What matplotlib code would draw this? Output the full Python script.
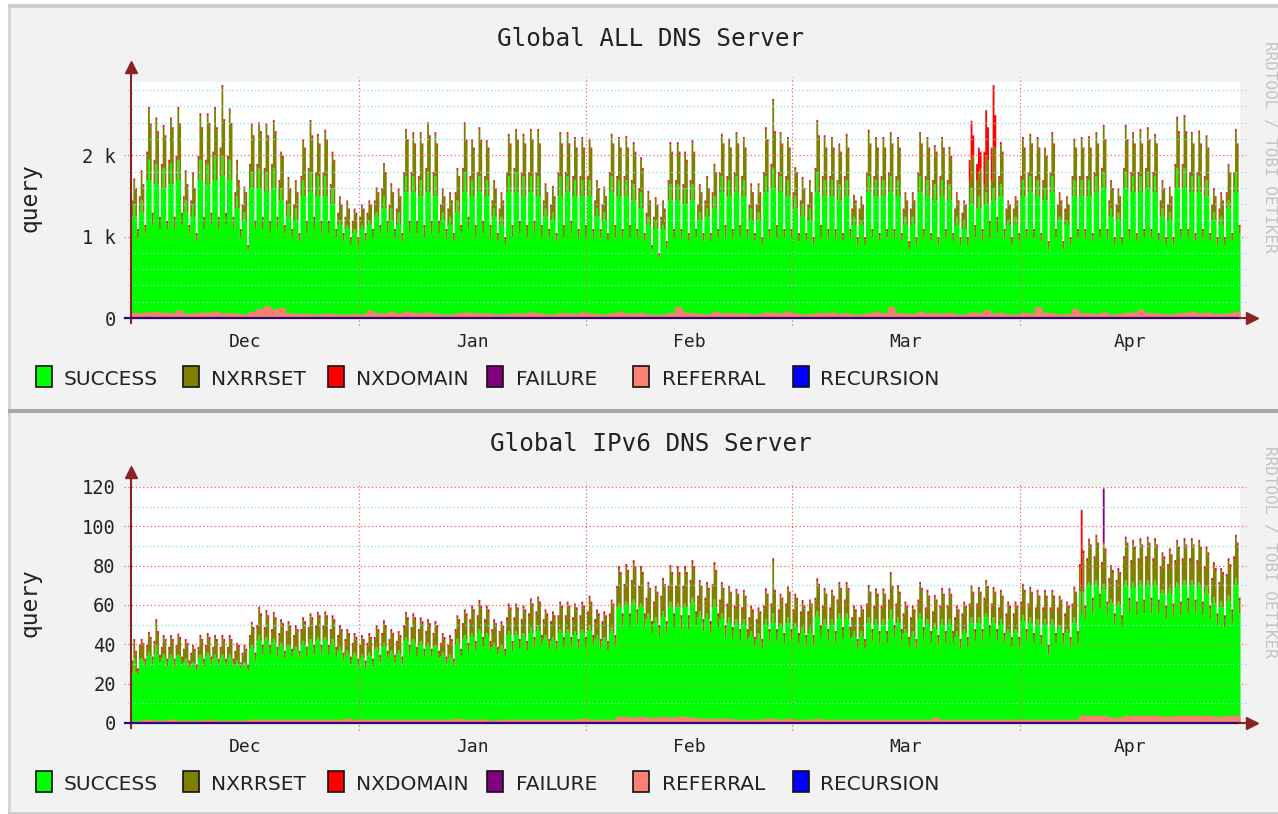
import numpy as np
import matplotlib
matplotlib.use('Agg')
import matplotlib.pyplot as plt
from matplotlib import font_manager
from matplotlib.patches import Rectangle

# ---------------------------------------------------------------
# data, one value per day from Dec 1 to Apr 30 (151 days)
# each day is drawn as 4 samples: body, peak, peak2, low
# ---------------------------------------------------------------
month_names = ['Dec', 'Jan', 'Feb', 'Mar', 'Apr']
month_starts = [0, 31, 62, 90, 121]
month_centers = [15.5, 46.5, 76.0, 105.5, 136.0]
legend_names = ['SUCCESS', 'NXRRSET', 'NXDOMAIN', 'FAILURE', 'REFERRAL', 'RECURSION']

# --- Global ALL DNS Server (queries) ---
all_peak = [
    1720, 1820,
    2600, 2470, 2380, 2470, 2600, 1820, 1800,
    2520, 2520, 2600, 2870, 2580, 1950, 1620,
    2400, 2410, 2400, 2440, 2050, 1740, 1700,
    2200, 2440, 2270, 2320, 2050, 1500, 1450,
    1350, 1400, 1450, 1610, 1910, 1660, 1600,
    2330, 2290, 2290, 2410, 2290, 1600, 1550,
    1850, 2410, 2200, 2350, 2190, 1700, 1550,
    2270, 2330, 2270, 2330, 2330, 1660, 1630,
    2290, 2290, 2230, 2230, 2210, 1700, 1620,
    2270, 2230, 2240, 2170, 1980, 1570, 1490,
    1450, 2170, 2170, 2050, 2190, 1650, 1750,
    1900, 2270, 2210, 2290, 2230, 1660, 1660,
    2350, 2700, 2290, 2230, 1860, 1740, 1700,
    2440, 2250, 2230, 2150, 2270, 1520, 1500,
    2320, 2230, 2230, 2290, 2230, 1550, 1550,
    2290, 2230, 2130, 2230, 2110, 1550, 1450,
    2430, 2100, 2560, 2870, 2170, 1450, 1500,
    2230, 2270, 2230, 2100, 2290, 1550, 1500,
    2210, 2230, 2240, 2290, 2380, 1700, 1600,
    2380, 2290, 2330, 2350, 2270, 1700, 1620,
    2480, 2500, 2290, 2310, 2250, 1600, 1550,
    1900, 2330,
]
all_peak2 = [
    1600, 1650,
    2400, 2300, 2250, 2350, 2400, 1650, 1600,
    2350, 2400, 2350, 2450, 2400, 1700, 1550,
    2250, 2300, 2250, 2300, 2000, 1600, 1550,
    2100, 2250, 2150, 2200, 1950, 1400, 1350,
    1300, 1350, 1400, 1550, 1800, 1550, 1500,
    2200, 2150, 2150, 2250, 2150, 1500, 1450,
    1750, 2200, 2100, 2200, 2100, 1600, 1450,
    2150, 2200, 2150, 2200, 2150, 1550, 1500,
    2150, 2150, 2100, 2100, 2100, 1600, 1500,
    2150, 2100, 2100, 2050, 1850, 1450, 1400,
    1350, 2050, 2050, 1950, 2050, 1550, 1600,
    1800, 2150, 2100, 2150, 2100, 1550, 1550,
    2200, 2300, 2150, 2100, 1800, 1600, 1550,
    2250, 2100, 2100, 2050, 2100, 1450, 1400,
    2150, 2100, 2100, 2150, 2100, 1450, 1450,
    2150, 2100, 2050, 2100, 2000, 1450, 1400,
    2250, 2050, 2350, 2500, 2050, 1400, 1450,
    2100, 2150, 2100, 2000, 2150, 1450, 1400,
    2100, 2100, 2100, 2150, 2200, 1600, 1500,
    2200, 2150, 2150, 2200, 2150, 1600, 1500,
    2300, 2300, 2150, 2150, 2100, 1500, 1450,
    1800, 2150,
]
all_body = [
    1450, 1500,
    2050, 1950, 1900, 1950, 2000, 1500, 1450,
    2000, 1950, 2050, 2100, 2000, 1550, 1400,
    1900, 1900, 1850, 1900, 1700, 1450, 1400,
    1750, 1850, 1800, 1800, 1650, 1300, 1250,
    1200, 1250, 1300, 1450, 1600, 1400, 1350,
    1800, 1800, 1750, 1850, 1800, 1400, 1350,
    1550, 1850, 1750, 1800, 1750, 1450, 1350,
    1800, 1850, 1800, 1800, 1800, 1450, 1400,
    1800, 1800, 1750, 1750, 1750, 1450, 1400,
    1800, 1750, 1750, 1700, 1600, 1300, 1250,
    1250, 1700, 1700, 1650, 1700, 1400, 1450,
    1550, 1800, 1750, 1800, 1750, 1400, 1400,
    1800, 1900, 1800, 1750, 1550, 1450, 1400,
    1850, 1750, 1750, 1700, 1750, 1350, 1350,
    1800, 1750, 1750, 1800, 1750, 1350, 1350,
    1800, 1750, 1700, 1750, 1700, 1350, 1300,
    1950, 1900, 2050, 2100, 1750, 1350, 1350,
    1750, 1800, 1750, 1700, 1800, 1400, 1350,
    1750, 1750, 1750, 1800, 1850, 1450, 1400,
    1850, 1800, 1800, 1850, 1800, 1450, 1400,
    1900, 1900, 1800, 1800, 1750, 1400, 1350,
    1550, 1800,
]
all_low = [
    1100, 1150,
    1300, 1250, 1200, 1250, 1300, 1150, 1050,
    1250, 1300, 1250, 1300, 1250, 1100, 900,
    1200, 1250, 1200, 1250, 1150, 1100, 1050,
    1200, 1250, 1200, 1200, 1100, 1050, 1000,
    1000, 1050, 1100, 1150, 1200, 1100, 1050,
    1200, 1200, 1150, 1200, 1200, 1100, 1050,
    1150, 1250, 1150, 1200, 1150, 1050, 1000,
    1150, 1200, 1150, 1200, 1150, 1100, 1050,
    1150, 1200, 1100, 1150, 1100, 1100, 1050,
    1150, 1100, 1150, 1100, 1050, 900, 800,
    950, 1100, 1100, 1050, 1100, 1050, 1050,
    1100, 1150, 1100, 1150, 1100, 1050, 1000,
    1100, 1150, 1100, 1100, 1050, 1050, 1000,
    1150, 1100, 1100, 1050, 1100, 1000, 1000,
    1100, 1050, 1100, 1100, 1050, 950, 1000,
    1100, 1050, 1000, 1100, 1050, 1000, 1000,
    1150, 1100, 1200, 1250, 1100, 1000, 1050,
    1100, 1100, 1050, 950, 1100, 950, 1000,
    1100, 1100, 1050, 1100, 1100, 1000, 1000,
    1100, 1050, 1100, 1100, 1050, 1000, 1000,
    1100, 1100, 1050, 1100, 1050, 1000, 1000,
    1050, 1150,
]
all_success_peak = [
    1400, 1450,
    1950, 1900, 1850, 1900, 1950, 1450, 1400,
    1950, 1900, 2000, 2000, 1950, 1500, 1300,
    1800, 1850, 1800, 1850, 1600, 1400, 1350,
    1700, 1800, 1750, 1750, 1600, 1200, 1150,
    1100, 1150, 1200, 1300, 1500, 1350, 1300,
    1750, 1750, 1700, 1800, 1750, 1300, 1250,
    1450, 1800, 1700, 1750, 1700, 1350, 1250,
    1750, 1800, 1750, 1750, 1750, 1350, 1300,
    1750, 1750, 1700, 1700, 1700, 1350, 1300,
    1750, 1700, 1700, 1650, 1550, 1250, 1200,
    1150, 1650, 1650, 1600, 1650, 1300, 1350,
    1500, 1750, 1700, 1750, 1700, 1350, 1300,
    1750, 1850, 1750, 1700, 1500, 1400, 1350,
    1800, 1700, 1700, 1650, 1700, 1250, 1200,
    1750, 1700, 1700, 1750, 1700, 1250, 1250,
    1750, 1700, 1650, 1700, 1650, 1250, 1200,
    1600, 1500, 1550, 1600, 1650, 1200, 1250,
    1700, 1750, 1700, 1600, 1750, 1250, 1200,
    1700, 1700, 1700, 1750, 1800, 1350, 1300,
    1800, 1750, 1750, 1800, 1750, 1350, 1300,
    1850, 1850, 1750, 1750, 1700, 1300, 1250,
    1450, 1800,
]
all_success_body = [
    1250, 1300,
    1700, 1650, 1600, 1650, 1700, 1300, 1250,
    1700, 1650, 1700, 1750, 1700, 1350, 1200,
    1600, 1600, 1550, 1600, 1450, 1250, 1200,
    1500, 1550, 1500, 1500, 1400, 1150, 1100,
    1050, 1100, 1150, 1250, 1350, 1200, 1150,
    1550, 1550, 1500, 1550, 1500, 1200, 1150,
    1300, 1550, 1500, 1550, 1500, 1250, 1150,
    1550, 1550, 1500, 1550, 1500, 1250, 1200,
    1500, 1550, 1500, 1500, 1500, 1250, 1200,
    1550, 1500, 1500, 1450, 1350, 1150, 1100,
    1100, 1450, 1450, 1400, 1450, 1200, 1250,
    1350, 1550, 1500, 1550, 1500, 1200, 1200,
    1550, 1600, 1550, 1500, 1350, 1250, 1200,
    1550, 1500, 1500, 1450, 1500, 1150, 1150,
    1550, 1500, 1500, 1550, 1500, 1150, 1150,
    1550, 1500, 1450, 1500, 1450, 1150, 1100,
    1400, 1350, 1400, 1450, 1500, 1150, 1150,
    1500, 1550, 1500, 1450, 1550, 1200, 1150,
    1500, 1500, 1500, 1550, 1600, 1250, 1200,
    1600, 1550, 1550, 1600, 1550, 1250, 1200,
    1600, 1600, 1550, 1550, 1500, 1200, 1150,
    1350, 1550,
]
all_success_low = [
    1000, 1050,
    1150, 1100, 1100, 1100, 1150, 1050, 950,
    1100, 1150, 1100, 1150, 1100, 1000, 850,
    1100, 1100, 1050, 1100, 1050, 1000, 950,
    1050, 1100, 1050, 1050, 1000, 950, 900,
    900, 950, 1000, 1050, 1050, 1000, 950,
    1050, 1050, 1000, 1050, 1050, 1000, 950,
    1050, 1100, 1000, 1050, 1000, 950, 900,
    1000, 1050, 1000, 1050, 1000, 1000, 950,
    1000, 1050, 1000, 1000, 1000, 1000, 950,
    1000, 1000, 1000, 1000, 950, 850, 750,
    850, 1000, 1000, 950, 1000, 950, 950,
    1000, 1000, 1000, 1000, 1000, 950, 900,
    1000, 1000, 1000, 1000, 950, 950, 900,
    1000, 1000, 1000, 950, 1000, 900, 900,
    1000, 950, 1000, 1000, 950, 850, 900,
    1000, 950, 900, 1000, 950, 900, 900,
    1000, 950, 1000, 1050, 1000, 900, 950,
    1000, 1000, 950, 850, 1000, 850, 900,
    1000, 1000, 950, 1000, 1000, 900, 900,
    1000, 950, 1000, 1000, 950, 900, 900,
    1000, 1000, 950, 1000, 950, 900, 900,
    950, 1050,
]
all_referral = [
    70, 65,
    75, 80, 70, 65, 100, 60, 60,
    75, 70, 85, 65, 70, 55, 50,
    85, 120, 150, 110, 130, 65, 55,
    60, 55, 50, 60, 55, 50, 50,
    55, 50, 100, 70, 65, 85, 60,
    85, 70, 65, 75, 60, 50, 50,
    65, 75, 70, 60, 65, 50, 55,
    60, 65, 60, 75, 65, 50, 50,
    70, 65, 60, 75, 65, 55, 50,
    65, 85, 65, 60, 70, 50, 50,
    50, 70, 140, 85, 65, 55, 50,
    85, 65, 70, 60, 65, 50, 55,
    75, 70, 65, 85, 60, 50, 55,
    70, 65, 75, 60, 65, 50, 50,
    65, 85, 65, 140, 70, 60, 55,
    85, 65, 70, 60, 70, 50, 50,
    75, 70, 105, 65, 70, 50, 50,
    70, 65, 140, 75, 65, 50, 55,
    120, 70, 65, 60, 75, 50, 55,
    70, 75, 110, 70, 65, 55, 50,
    65, 70, 85, 65, 75, 60, 55,
    65, 85,
]
all_nxdomain = 20
all_failure = 8
all_nxdomain_days = [114, 115, 116, 117]
all_nxdomain_peak = [450, 300, 550, 750]
all_nxdomain_body = [250, 200, 400, 400]

# --- Global IPv6 DNS Server (queries) ---
v6_peak = [
    43, 43,
    46.6, 53, 45, 45, 45.7, 43, 40,
    45, 46, 45, 45, 45, 41, 40,
    51.7, 59.4, 57.7, 56.8, 53, 52, 50,
    54, 56, 56.8, 57, 55, 50, 48,
    46, 45, 46, 50, 52.5, 48, 47,
    56.8, 56, 54, 53, 52, 46, 45,
    55, 58, 60, 62.7, 60, 53, 52,
    61, 61, 60, 63.6, 64.5, 58, 57,
    62, 62, 61, 62, 65, 58, 57,
    63, 80, 81, 83, 80, 72, 70,
    74, 80.6, 80, 80, 83, 73, 72,
    82, 72, 70, 68.5, 68, 60, 59,
    68.7, 84, 66, 69.7, 66, 62.7, 63,
    73.8, 69, 68, 72, 72, 60, 60,
    70.4, 68.7, 68.7, 77, 70.4, 62, 60,
    72, 68, 65.3, 69, 68.7, 60, 62,
    70.4, 69.4, 73, 69.4, 68, 62, 62,
    71, 69.6, 68, 68, 68, 65, 62,
    69.6, 70, 94, 96, 92.5, 80.6, 79,
    95, 93.4, 94.2, 95, 94.2, 87, 89,
    93.4, 94.2, 94.2, 93.4, 90, 82, 79,
    84, 96,
]
v6_peak2 = [
    37, 41,
    44, 47, 43, 43, 44, 41, 38,
    43, 44, 43, 43, 43, 40, 38,
    49, 56, 55, 54, 51, 50, 48,
    52, 54, 55, 55, 53, 48, 46,
    44, 43, 44, 48, 50, 46, 45,
    54, 54, 52, 51, 50, 44, 43,
    53, 56, 58, 60, 58, 51, 50,
    59, 59, 58, 61, 62, 56, 55,
    60, 60, 59, 60, 62, 56, 55,
    61, 77, 78, 80, 77, 69, 67,
    71, 77, 77, 77, 80, 70, 69,
    78, 69, 67, 66, 65, 58, 57,
    66, 68, 64, 67, 64, 60, 61,
    71, 66, 65, 69, 69, 58, 58,
    67, 66, 66, 70, 67, 60, 58,
    69, 65, 63, 66, 66, 58, 60,
    67, 67, 70, 67, 65, 60, 60,
    68, 67, 65, 65, 65, 63, 60,
    67, 88, 91, 92, 89, 78, 77,
    92, 90, 91, 92, 91, 85, 86,
    90, 91, 91, 90, 87, 79, 77,
    81, 92,
]
v6_body = [
    32, 40,
    40, 42, 39, 39, 40, 38, 36,
    39, 40, 39, 39, 39, 37, 36,
    45, 50, 49, 48, 46, 47, 45,
    48, 49, 50, 50, 48, 45, 43,
    41, 40, 41, 44, 46, 43, 42,
    50, 49, 48, 47, 46, 41, 40,
    48, 51, 53, 55, 53, 48, 47,
    54, 54, 53, 56, 57, 53, 52,
    55, 55, 54, 55, 57, 53, 52,
    56, 70, 71, 73, 70, 64, 62,
    65, 70, 70, 70, 73, 65, 64,
    71, 63, 61, 60, 59, 54, 53,
    60, 61, 58, 61, 58, 57, 57,
    64, 60, 59, 63, 63, 54, 54,
    61, 60, 60, 63, 61, 56, 54,
    63, 59, 57, 60, 60, 54, 56,
    61, 61, 64, 61, 59, 56, 56,
    62, 61, 59, 59, 59, 59, 56,
    61, 81, 84, 85, 82, 74, 73,
    85, 83, 84, 85, 84, 80, 81,
    83, 84, 84, 83, 80, 74, 72,
    76, 85,
]
v6_low = [
    28, 33,
    34, 35, 33, 33, 34, 32, 30,
    33, 34, 33, 33, 33, 31, 30,
    36, 40, 40, 39, 37, 38, 37,
    39, 40, 40, 40, 39, 36, 34,
    33, 32, 33, 35, 37, 35, 34,
    40, 39, 38, 38, 37, 34, 33,
    38, 41, 42, 44, 42, 39, 38,
    42, 43, 42, 44, 45, 43, 42,
    44, 44, 43, 44, 45, 43, 42,
    45, 56, 56, 58, 56, 52, 50,
    52, 56, 55, 55, 57, 53, 52,
    56, 50, 49, 48, 48, 44, 43,
    48, 48, 46, 48, 46, 45, 45,
    50, 48, 47, 49, 49, 43, 43,
    48, 47, 47, 50, 48, 44, 43,
    49, 47, 45, 47, 47, 43, 44,
    48, 48, 50, 48, 46, 44, 44,
    48, 46, 45, 40, 46, 46, 44,
    47, 60, 64, 66, 62, 56, 55,
    64, 62, 63, 64, 63, 60, 61,
    62, 64, 63, 62, 60, 56, 55,
    58, 64,
]
v6_success_peak = [
    33, 33,
    36, 40, 35, 35, 35, 33, 31,
    35, 36, 35, 35, 35, 32, 31,
    40, 45, 44, 43, 41, 40, 39,
    42, 43, 44, 44, 43, 39, 37,
    36, 35, 36, 39, 41, 37, 37,
    44, 43, 42, 41, 40, 36, 35,
    43, 45, 46, 48, 46, 41, 40,
    47, 47, 46, 49, 50, 45, 44,
    48, 48, 47, 48, 50, 45, 44,
    49, 61, 62, 63, 61, 56, 54,
    57, 62, 61, 61, 64, 57, 56,
    63, 56, 54, 53, 53, 47, 46,
    53, 56, 51, 54, 51, 49, 49,
    57, 53, 53, 56, 56, 47, 47,
    54, 53, 53, 58, 54, 48, 47,
    56, 53, 51, 53, 53, 47, 48,
    54, 54, 56, 54, 53, 48, 48,
    55, 54, 53, 53, 53, 50, 48,
    54, 55, 72, 73, 71, 63, 62,
    73, 72, 73, 73, 73, 68, 69,
    72, 73, 73, 72, 70, 64, 62,
    65, 74,
]
v6_success_body = [
    26, 32,
    34, 35, 33, 33, 34, 31, 30,
    33, 34, 33, 33, 33, 30, 30,
    38, 42, 42, 41, 39, 39, 37,
    40, 41, 42, 42, 40, 37, 35,
    34, 33, 34, 37, 39, 35, 35,
    42, 41, 40, 39, 39, 34, 33,
    40, 43, 44, 46, 44, 39, 38,
    45, 45, 44, 46, 47, 43, 42,
    46, 46, 45, 46, 47, 43, 42,
    46, 59, 60, 61, 59, 53, 51,
    54, 59, 59, 59, 61, 54, 53,
    59, 53, 51, 50, 50, 44, 43,
    50, 51, 49, 51, 49, 46, 46,
    54, 50, 50, 53, 53, 44, 44,
    51, 50, 50, 53, 51, 46, 44,
    53, 50, 48, 50, 50, 44, 46,
    51, 51, 54, 51, 50, 46, 46,
    52, 51, 50, 50, 50, 48, 46,
    51, 67, 70, 70, 68, 61, 60,
    70, 69, 70, 70, 70, 66, 66,
    69, 70, 70, 69, 66, 61, 59,
    62, 70,
]
v6_success_low = [
    25, 29,
    30, 31, 29, 29, 30, 28, 27,
    29, 30, 29, 29, 29, 28, 27,
    32, 35, 35, 34, 33, 34, 33,
    34, 35, 35, 35, 34, 32, 30,
    29, 28, 29, 31, 33, 31, 30,
    35, 34, 34, 34, 33, 30, 29,
    34, 36, 37, 39, 37, 35, 34,
    37, 38, 37, 39, 40, 38, 37,
    39, 39, 38, 39, 40, 38, 37,
    40, 49, 49, 51, 49, 46, 44,
    46, 49, 48, 48, 50, 47, 46,
    49, 44, 43, 42, 42, 39, 38,
    42, 42, 41, 42, 41, 40, 40,
    44, 42, 41, 43, 43, 38, 38,
    42, 41, 41, 44, 42, 39, 38,
    43, 41, 40, 41, 41, 38, 39,
    42, 42, 44, 42, 41, 39, 39,
    42, 41, 40, 35, 41, 41, 39,
    41, 53, 56, 58, 55, 50, 49,
    56, 55, 56, 56, 56, 53, 54,
    55, 56, 56, 55, 53, 50, 49,
    51, 56,
]
v6_referral = [
    1.0, 1.5,
    2.0, 1.5, 1.5, 2.0, 1.5, 1.5, 1.5,
    1.5, 2.0, 1.5, 1.5, 1.5, 1.5, 1.5,
    2.0, 2.0, 2.0, 2.0, 2.0, 2.0, 2.0,
    2.0, 2.0, 2.0, 2.0, 2.0, 2.0, 2.5,
    2.0, 2.0, 2.0, 2.0, 2.0, 2.0, 2.0,
    2.0, 2.0, 2.0, 2.0, 2.0, 2.0, 2.0,
    2.5, 2.0, 2.0, 2.0, 2.0, 1.5, 2.0,
    2.0, 2.0, 2.0, 2.0, 2.0, 2.0, 2.0,
    2.0, 2.0, 2.0, 2.5, 2.0, 2.0, 2.0,
    2.0, 3.5, 3.5, 3.0, 3.5, 3.0, 3.0,
    3.5, 3.0, 3.5, 3.5, 3.0, 2.5, 2.5,
    2.5, 2.5, 2.5, 2.0, 2.0, 2.0, 2.0,
    2.5, 2.5, 2.0, 2.5, 2.0, 2.0, 2.0,
    2.5, 2.0, 2.0, 2.0, 2.0, 2.0, 2.0,
    2.0, 2.0, 2.0, 2.0, 2.0, 2.0, 2.0,
    2.0, 2.0, 3.0, 2.0, 2.0, 2.0, 2.0,
    2.0, 2.0, 2.0, 2.0, 2.0, 2.0, 2.0,
    2.0, 2.0, 2.0, 2.0, 2.0, 2.0, 2.0,
    2.0, 4.0, 4.0, 4.0, 4.0, 3.0, 3.0,
    4.0, 4.0, 4.0, 4.0, 4.0, 3.5, 3.5,
    4.0, 4.0, 4.0, 4.0, 4.0, 3.5, 3.5,
    4.0, 4.0,
]
v6_nxdomain = 1.0
v6_failure = 0.4
v6_nxdomain_spike_day = 129
v6_nxdomain_spike = 38.7
v6_failure_spike_day = 132
v6_failure_spike = 27

all_yticks = [0, 1000, 2000]
all_ytick_labels = ['0', '1 k', '2 k']
all_minor = [200, 400, 600, 800, 1200, 1400, 1600, 1800, 2200, 2400, 2600, 2800]
v6_yticks = [0, 20, 40, 60, 80, 100, 120]
v6_ytick_labels = ['0', '20', '40', '60', '80', '100', '120']
v6_minor = [10, 30, 50, 70, 90, 110]

# ---------------------------------------------------------------
W, H = 1278, 814
SLOTS = 4
GREEN, OLIVE, RED, PURPLE, PINK, BLUE = '#00ff00', '#808000', '#ff0000', '#800080', '#fa8072', '#0000ff'
legend_colors = [GREEN, OLIVE, RED, PURPLE, PINK, BLUE]
GRID_MAJOR = '#f06464'
GRID_MINOR = '#80e0ee'
AXIS = '#8c2323'
BG = '#f2f2f2'

installed = {f.name for f in font_manager.fontManager.ttflist}
MONO = 'DejaVu Sans Mono'
if 'Liberation Sans Narrow' in installed:
    LEG_FONT, LEG_SIZE = 'Liberation Sans Narrow', 16.5
else:
    LEG_FONT, LEG_SIZE = 'DejaVu Sans', 14.5

fig = plt.figure(figsize=(W / 100, H / 100), dpi=100, facecolor='white')


def fx(x):
    return x / W


def fy(y):
    return 1 - y / H


def band(x0, y0, x1, y1, color):
    fig.patches.append(Rectangle((fx(x0), fy(y1)), (x1 - x0) / W, (y1 - y0) / H,
                                 transform=fig.transFigure, facecolor=color, edgecolor='none',
                                 zorder=-10))


# panel backgrounds and borders
band(8, 4, W, 409, BG)
band(8, 413, W, 814, BG)
band(8, 4, 11, 409, '#d6d6d6')
band(8, 413, 11, 814, '#d6d6d6')
band(8, 4, W, 8, '#cfcfcf')
band(8, 409, W, 413, '#a8a8a8')
band(8, 812, W, 814, '#cfcfcf')


def samples(peak, peak2, body, low):
    return np.column_stack([body, peak, peak2, low]).ravel().astype(float)


def edge(v):
    return np.append(v, v[-1])


def panel(oy, title, ymax, total, success, nxd, fail, referral, yticks, ylabels, minor):
    n = len(total) // SLOTS
    t = np.arange(SLOTS * n + 1) / SLOTS
    ax = fig.add_axes([fx(131), fy(318 + oy), (1240 - 131) / W, 236 / H])
    ax.set_facecolor('white')
    ax.set_xlim(0, n)
    ax.set_ylim(0, ymax)
    for s in ax.spines.values():
        s.set_visible(False)

    nxr = np.maximum(total - success - nxd - fail, 0)
    c1 = success
    c2 = c1 + nxr
    c3 = c2 + nxd
    c4 = c3 + fail
    kw = dict(step='post', lw=0, antialiased=False, zorder=1)
    ax.fill_between(t, 0, edge(c1), color=GREEN, **kw)
    ax.fill_between(t, edge(c1), edge(c2), color=OLIVE, **kw)
    ax.fill_between(t, edge(c2), edge(c3), color=RED, **kw)
    ax.fill_between(t, edge(c3), edge(c4), color=PURPLE, **kw)
    ax.fill_between(t, 0, edge(referral), color=PINK, **kw)

    # grid drawn over the data, as rrdtool does
    dots = (0, (1, 2))
    for v in minor:
        ax.axhline(v, xmin=-0.004, xmax=1.005, color=GRID_MINOR, lw=0.9, ls=dots, clip_on=False, zorder=3)
    for v in yticks[1:]:
        ax.axhline(v, xmin=-0.006, xmax=1.005, color=GRID_MAJOR, lw=0.9, ls=dots, clip_on=False, zorder=3)
    for m in month_starts[1:]:
        ax.axvline(m, ymin=-0.03, ymax=1.02, color=GRID_MAJOR, lw=0.9, ls=dots, clip_on=False, zorder=3)

    # axes with arrows
    ax.plot([0, 0], [-0.02, 1.06], transform=ax.transAxes, color=AXIS, lw=1.5, clip_on=False, zorder=5)
    ax.plot([0], [1.062], transform=ax.transAxes, marker='^', ms=9, color=AXIS, mec=AXIS,
            clip_on=False, zorder=5)
    ax.plot([-0.005, 1.0], [0, 0], transform=ax.transAxes, color='#2a0a70', lw=1.6, clip_on=False, zorder=5)
    ax.plot([1.0, 1.008], [0, 0], transform=ax.transAxes, color=AXIS, lw=1.5, clip_on=False, zorder=5)
    ax.plot([1.0105], [0], transform=ax.transAxes, marker='>', ms=9, color=AXIS, mec=AXIS,
            clip_on=False, zorder=5)

    ax.set_yticks(yticks, labels=ylabels)
    ax.tick_params(axis='y', length=0, pad=11, labelsize=13.5, labelfontfamily=MONO, labelcolor='#222222')
    ax.set_xticks(month_centers, labels=month_names)
    ax.tick_params(axis='x', length=0, pad=11, labelsize=13, labelfontfamily=MONO, labelcolor='#222222')

    fig.text(fx(651), fy(46 + oy), title, ha='center', va='baseline', fontsize=17.5,
             family=MONO, color='#222222')
    fig.text(fx(30), fy(198 + oy), 'query', ha='center', va='center', rotation=90,
             fontsize=16.5, family=MONO, color='#222222')
    fig.text(fx(1270), fy(147 + oy), 'RRDTOOL / TOBI OETIKER', ha='center', va='center',
             rotation=270, fontsize=11.5, family=MONO, color='#c4c4c4')

    box_x = [36, 183, 328, 487, 633, 793]
    text_x = [64, 211, 356, 516, 662, 820]
    for bx, tx, name, col in zip(box_x, text_x, legend_names, legend_colors):
        fig.patches.append(Rectangle((fx(bx), fy(387 + oy)), 16 / W, 21 / H, transform=fig.transFigure,
                                     facecolor=col, edgecolor='#111111', lw=1.2, zorder=2))
        fig.text(fx(tx), fy(385 + oy), name, ha='left', va='baseline', fontsize=LEG_SIZE,
                 family=LEG_FONT, color='#222222')
    return ax


# --- build sample arrays ---
for lst in [all_peak, all_peak2, all_body, all_low, all_success_peak, all_success_body,
            all_success_low, all_referral, v6_peak, v6_peak2, v6_body, v6_low, v6_success_peak,
            v6_success_body, v6_success_low, v6_referral]:
    assert len(lst) == 151, len(lst)

n_days = len(all_peak)
ones = np.ones(SLOTS * n_days)

all_total = samples(all_peak, all_peak2, all_body, all_low)
all_success = samples(all_success_peak, all_success_body, all_success_body, all_success_low)
all_nxd = all_nxdomain * ones
for d, p, b in zip(all_nxdomain_days, all_nxdomain_peak, all_nxdomain_body):
    all_nxd[SLOTS * d:SLOTS * d + 3] = [b, p, b]
all_fail = all_failure * ones
all_ref = np.repeat(np.array(all_referral, dtype=float), SLOTS)

v6_total = samples(v6_peak, v6_peak2, v6_body, v6_low)
v6_success = samples(v6_success_peak, v6_success_body, v6_success_body, v6_success_low)
v6_nxd = v6_nxdomain * ones
v6_fail = v6_failure * ones
v6_ref = np.repeat(np.array(v6_referral, dtype=float), SLOTS)
# thin one-sample spikes sit on top of the stack
v6_nxd[SLOTS * v6_nxdomain_spike_day + 1] += v6_nxdomain_spike
v6_total[SLOTS * v6_nxdomain_spike_day + 1] += v6_nxdomain_spike
v6_fail[SLOTS * v6_failure_spike_day + 1] += v6_failure_spike
v6_total[SLOTS * v6_failure_spike_day + 1] += v6_failure_spike

panel(0, 'Global ALL DNS Server', 2900, all_total, all_success, all_nxd, all_fail, all_ref,
      all_yticks, all_ytick_labels, all_minor)
panel(405, 'Global IPv6 DNS Server', 120, v6_total, v6_success, v6_nxd, v6_fail, v6_ref,
      v6_yticks, v6_ytick_labels, v6_minor)

fig.savefig('out.png', dpi=100, facecolor='white')
